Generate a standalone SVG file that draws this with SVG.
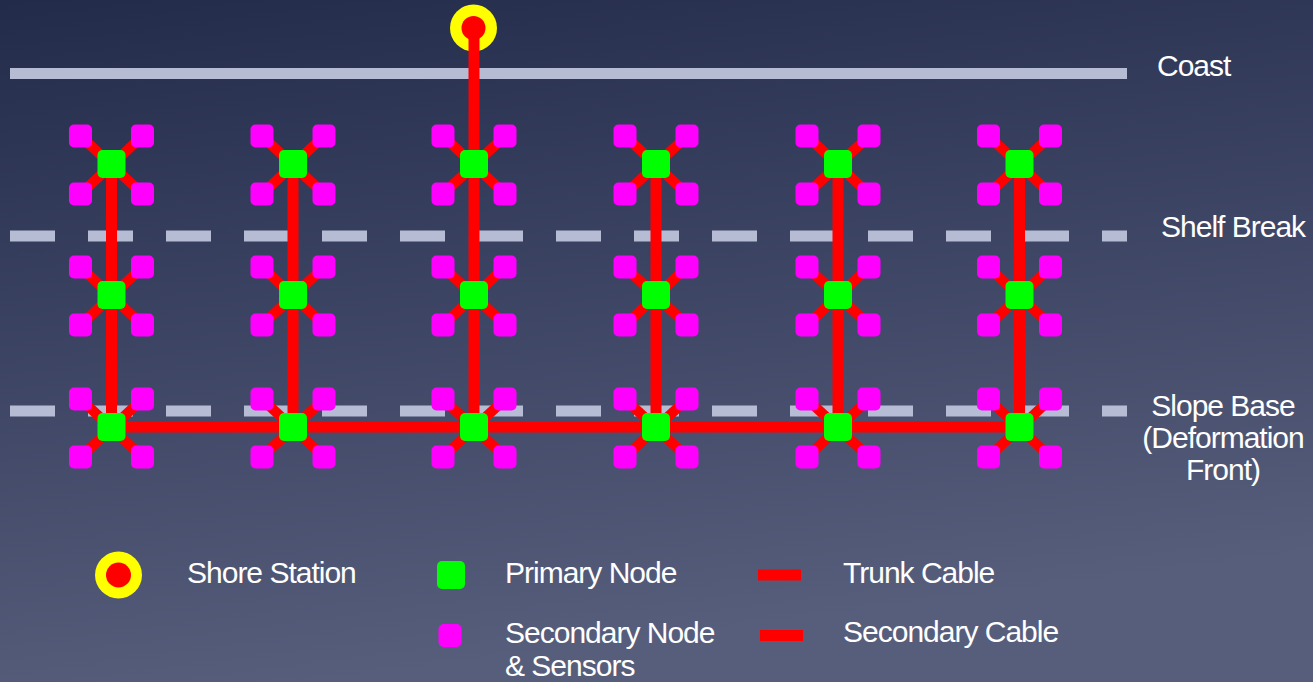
<svg xmlns="http://www.w3.org/2000/svg" xmlns:xlink="http://www.w3.org/1999/xlink" width="1313" height="682" viewBox="0 0 1313 682">
  <style>
    .label { font-family: "Liberation Sans", Arial, sans-serif; font-size: 30px; fill: #ffffff; letter-spacing: -1px; }
    .mid { text-anchor: middle; }
    .coast { stroke: #b5bcd3; stroke-width: 11; fill: none; }
    .contour { stroke: #b5bcd3; stroke-width: 11; fill: none; stroke-dasharray: 45 33; }
    .trunk { stroke: #ff0000; stroke-width: 11; fill: none; }
    .sec-cable { stroke: #ff0000; stroke-width: 10; fill: none; }
    .primary { fill: #00ff00; }
    .secondary { fill: #ff00ff; }
    .station-ring { fill: #ffff00; }
    .station-core { fill: #ff0000; }
  </style>
  <defs>
    <linearGradient id="bg" x1="0" y1="0" x2="0.25" y2="1">
      <stop offset="0" stop-color="#232b4b"/>
      <stop offset="1" stop-color="#575e7c"/>
    </linearGradient>
    <!-- cross of four secondary cables around a primary node -->
    <path id="xcable" class="sec-cable" d="M-31,-28L31,30M31,-28L-31,30"/>
    <!-- one primary node with its four secondary nodes -->
    <g id="site">
      <rect class="secondary" x="-42.5" y="-39.5" width="23" height="23" rx="5"/>
      <rect class="secondary" x="19.5" y="-39.5" width="23" height="23" rx="5"/>
      <rect class="secondary" x="-42.5" y="18.5" width="23" height="23" rx="5"/>
      <rect class="secondary" x="19.5" y="18.5" width="23" height="23" rx="5"/>
      <rect class="primary" x="-14" y="-14" width="28" height="28" rx="5"/>
    </g>
  </defs>

  <rect width="1313" height="682" fill="url(#bg)"/>

  <!-- reference lines -->
  <g id="contours">
    <line class="coast" x1="10" y1="73.5" x2="1127" y2="73.5"/>
    <line class="contour" x1="10" y1="236" x2="1127" y2="236"/>
    <line class="contour" x1="10" y1="411" x2="1127" y2="411"/>
  </g>

  <g id="shore-station">
    <circle class="station-ring" cx="473.5" cy="28" r="23.5"/>
    <circle class="station-core" cx="473.5" cy="28" r="12"/>
  </g>

  <!-- cables -->
  <g id="connectors">
    <line class="trunk" x1="111.5" y1="164" x2="111.5" y2="427"/>
    <line class="trunk" x1="293" y1="164" x2="293" y2="427"/>
    <line class="trunk" x1="474" y1="28" x2="474" y2="427"/>
    <line class="trunk" x1="656" y1="164" x2="656" y2="427"/>
    <line class="trunk" x1="838" y1="164" x2="838" y2="427"/>
    <line class="trunk" x1="1019.5" y1="164" x2="1019.5" y2="427"/>
    <line class="trunk" x1="111.5" y1="427" x2="1019.5" y2="427"/>

    <use xlink:href="#xcable" x="111.5" y="164"/>
    <use xlink:href="#xcable" x="293" y="164"/>
    <use xlink:href="#xcable" x="474" y="164"/>
    <use xlink:href="#xcable" x="656" y="164"/>
    <use xlink:href="#xcable" x="838" y="164"/>
    <use xlink:href="#xcable" x="1019.5" y="164"/>
    <use xlink:href="#xcable" x="111.5" y="295"/>
    <use xlink:href="#xcable" x="293" y="295"/>
    <use xlink:href="#xcable" x="474" y="295"/>
    <use xlink:href="#xcable" x="656" y="295"/>
    <use xlink:href="#xcable" x="838" y="295"/>
    <use xlink:href="#xcable" x="1019.5" y="295"/>
    <use xlink:href="#xcable" x="111.5" y="427"/>
    <use xlink:href="#xcable" x="293" y="427"/>
    <use xlink:href="#xcable" x="474" y="427"/>
    <use xlink:href="#xcable" x="656" y="427"/>
    <use xlink:href="#xcable" x="838" y="427"/>
    <use xlink:href="#xcable" x="1019.5" y="427"/>
  </g>

  <!-- node sites: primary node plus secondary nodes -->
  <g id="site-1-1"><use xlink:href="#site" x="111.5" y="164"/></g>
  <g id="site-1-2"><use xlink:href="#site" x="293" y="164"/></g>
  <g id="site-1-3"><use xlink:href="#site" x="474" y="164"/></g>
  <g id="site-1-4"><use xlink:href="#site" x="656" y="164"/></g>
  <g id="site-1-5"><use xlink:href="#site" x="838" y="164"/></g>
  <g id="site-1-6"><use xlink:href="#site" x="1019.5" y="164"/></g>
  <g id="site-2-1"><use xlink:href="#site" x="111.5" y="295"/></g>
  <g id="site-2-2"><use xlink:href="#site" x="293" y="295"/></g>
  <g id="site-2-3"><use xlink:href="#site" x="474" y="295"/></g>
  <g id="site-2-4"><use xlink:href="#site" x="656" y="295"/></g>
  <g id="site-2-5"><use xlink:href="#site" x="838" y="295"/></g>
  <g id="site-2-6"><use xlink:href="#site" x="1019.5" y="295"/></g>
  <g id="site-3-1"><use xlink:href="#site" x="111.5" y="427"/></g>
  <g id="site-3-2"><use xlink:href="#site" x="293" y="427"/></g>
  <g id="site-3-3"><use xlink:href="#site" x="474" y="427"/></g>
  <g id="site-3-4"><use xlink:href="#site" x="656" y="427"/></g>
  <g id="site-3-5"><use xlink:href="#site" x="838" y="427"/></g>
  <g id="site-3-6"><use xlink:href="#site" x="1019.5" y="427"/></g>

  <!-- line labels -->
  <g id="line-labels">
    <text class="label" x="1157" y="76">Coast</text>
    <text class="label" x="1161" y="237">Shelf Break</text>
    <text class="label mid" x="1223" y="416">Slope Base</text>
    <text class="label mid" x="1223" y="448">(Deformation</text>
    <text class="label mid" x="1223" y="480">Front)</text>
  </g>

  <!-- legend -->
  <g id="legend">
    <circle class="station-ring" cx="118.5" cy="575" r="23.5"/>
    <circle class="station-core" cx="118.5" cy="575" r="12.5"/>
    <text class="label" x="187" y="583">Shore Station</text>

    <rect class="primary" x="437" y="561" width="28" height="28" rx="5"/>
    <text class="label" x="505" y="583">Primary Node</text>

    <rect class="secondary" x="438.5" y="624" width="23" height="23" rx="5"/>
    <text class="label" x="505" y="643">Secondary Node</text>
    <text class="label" x="505" y="676">&amp; Sensors</text>

    <rect fill="#ff0000" x="758" y="569.5" width="43" height="11"/>
    <text class="label" x="843" y="583">Trunk Cable</text>

    <rect fill="#ff0000" x="760" y="630" width="43" height="11"/>
    <text class="label" x="843" y="642">Secondary Cable</text>
  </g>
</svg>
